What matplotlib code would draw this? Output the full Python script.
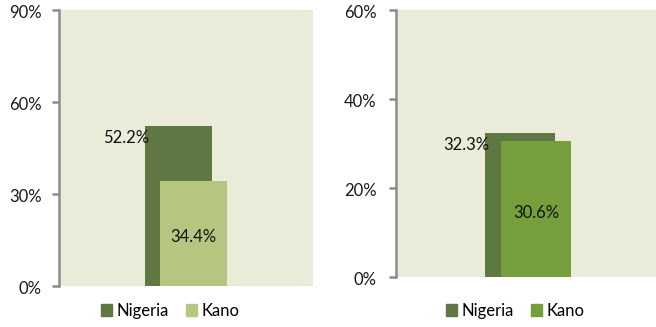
import matplotlib
matplotlib.use("Agg")
import matplotlib.pyplot as plt
from matplotlib.patches import Patch

plt.rcParams['font.family'] = ['Lato', 'DejaVu Sans']

# share of respondents, Nigeria vs Kano, two indicators
series = ["Nigeria", "Kano"]
left_values = [52.2, 34.4]
right_values = [32.3, 30.6]
left_ticks = [0, 30, 60, 90]
right_ticks = [0, 20, 40, 60]

panel_bg = "#EAECD9"
nigeria_col = "#5E7743"
kano_left_col = "#B4C680"
kano_right_col = "#769E3B"
spine_col = "#8C8C8C"
fs = 12

W, H = 656, 327
fig = plt.figure(figsize=(W / 100, H / 100), dpi=100)


def px_axes(x0, x1, y_top, y_bot):
    return fig.add_axes([x0 / W, (H - y_bot) / H, (x1 - x0) / W, (y_bot - y_top) / H])


def draw_panel(ax, values, ticks, kano_col, offsets, width, leg_x, label_gap):
    ax.set_facecolor(panel_bg)
    ax.bar(offsets[0], values[0], width=width, color=nigeria_col, zorder=2)
    ax.bar(offsets[1], values[1], width=width, color=kano_col, zorder=3)
    ax.set_xlim(-1, 1)
    ax.set_ylim(ticks[0], ticks[-1])
    ax.set_yticks(ticks)
    ax.set_yticklabels([])
    # tick labels drawn by hand so they can sit a little below each tick
    for t in ticks:
        ax.annotate(f"{t}%", (0, t), xycoords=("axes fraction", "data"),
                    xytext=(-label_gap, -2.5), textcoords="offset points",
                    ha="right", va="center", fontsize=fs, color="#1a1a1a",
                    annotation_clip=False)
    ax.set_xticks([])
    for s in ["top", "right", "bottom"]:
        ax.spines[s].set_visible(False)
    ax.spines["left"].set_color(spine_col)
    ax.spines["left"].set_linewidth(1.8)
    ax.tick_params(axis="y", length=5, width=1.8, color=spine_col)

    # Nigeria label sits just left of its bar, below the top
    ax.annotate(f"{values[0]}%", (offsets[0] - width / 2, values[0]),
                xytext=(3, -3), textcoords="offset points",
                ha="right", va="top", fontsize=fs, color="#111111", zorder=5)
    # Kano label in the middle of its bar
    ax.annotate(f"{values[1]}%", (offsets[1], values[1] / 2),
                xytext=(0, -3), textcoords="offset points",
                ha="center", va="center", fontsize=fs, color="#111111", zorder=5)

    handles = [Patch(color=nigeria_col), Patch(color=kano_col)]
    fig.legend(handles, series, loc="center", bbox_to_anchor=(leg_x / W, (H - 311) / H),
               ncol=2, frameon=False, fontsize=fs, handlelength=0.7,
               handleheight=0.7, handletextpad=0.25, columnspacing=1.0,
               borderpad=0)


ax1 = px_axes(59, 313, 10, 286)
draw_panel(ax1, left_values, left_ticks, kano_left_col, (-0.059, 0.059), 0.528, 170, 12.5)

ax2 = px_axes(396, 656, 9.5, 277)
draw_panel(ax2, right_values, right_ticks, kano_right_col, (-0.046, 0.077), 0.54, 515, 14)

fig.savefig("out.png", dpi=100)
